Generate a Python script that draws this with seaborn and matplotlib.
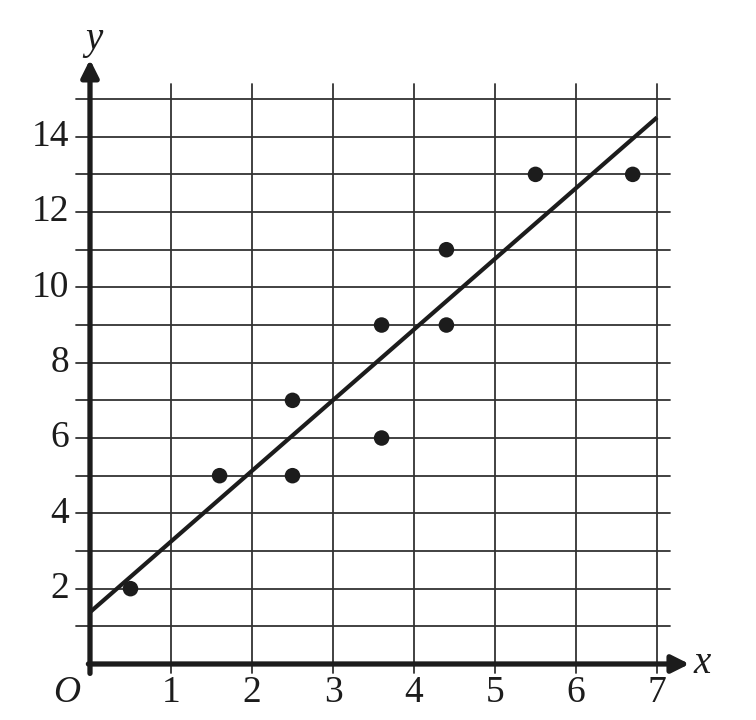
import matplotlib.pyplot as plt
import seaborn as sns
import numpy as np
import pandas as pd

# Scatter data
x_vals = [0.5, 1.6, 2.5, 2.5, 3.6, 3.6, 4.4, 4.4, 5.5, 6.7]
y_vals = [2, 5, 7, 5, 9, 6, 11, 9, 13, 13]
x_ticks = [1, 2, 3, 4, 5, 6, 7]
y_ticks = [2, 4, 6, 8, 10, 12, 14]

df = pd.DataFrame({"x": x_vals, "y": y_vals})

sns.set_style("white")
plt.rcParams['font.family'] = ['Liberation Serif', 'DejaVu Serif']

fig = plt.figure(figsize=(7.56, 7.2), dpi=100)
ax = fig.add_axes([0, 0, 1, 1])
ax.axis('off')

ink = '#1c1c1c'

# grid
for gx in range(1, 8):
    ax.plot([gx, gx], [-0.25, 15.4], color='#333333', lw=1.3, zorder=1)
for gy in range(1, 16):
    ax.plot([-0.17, 7.16], [gy, gy], color='#333333', lw=1.3, zorder=1)

# best-fit line from x=0 to x=7
ax.set_xlim(0, 7)
sns.regplot(data=df, x="x", y="y", ax=ax, scatter=False, ci=None,
            truncate=False, line_kws=dict(color=ink, lw=3.0, zorder=3,
                                          solid_capstyle='butt'))

sns.scatterplot(data=df, x="x", y="y", ax=ax, color=ink, s=125,
                edgecolor='none', zorder=4)

# axes with arrows
ax.annotate('', xy=(7.4, 0), xytext=(-0.02, 0),
            arrowprops=dict(arrowstyle='-|>', color=ink, lw=3.8,
                            mutation_scale=26, shrinkA=0, shrinkB=0), zorder=5)
ax.annotate('', xy=(0, 16.05), xytext=(0, -0.25),
            arrowprops=dict(arrowstyle='-|>', color=ink, lw=3.8,
                            mutation_scale=26, shrinkA=0, shrinkB=0), zorder=5)

# tick labels
for t in x_ticks:
    ax.text(t, -0.3, str(t), ha='center', va='top', fontsize=27, color=ink)
for t in y_ticks:
    ax.text(-0.26, t, str(t), ha='right', va='center', fontsize=27, color=ink)
ax.text(-0.12, -0.3, 'O', ha='right', va='top', fontsize=27, color=ink,
        style='italic')
ax.text(7.45, 0, 'x', ha='left', va='center', fontsize=28, color=ink,
        style='italic')
ax.text(0.05, 16.1, 'y', ha='center', va='bottom', fontsize=28, color=ink,
        style='italic')

ax.set_xlim(-1.111, 8.222)
ax.set_ylim(-1.487, 17.63)

plt.savefig("out.png", dpi=100)
